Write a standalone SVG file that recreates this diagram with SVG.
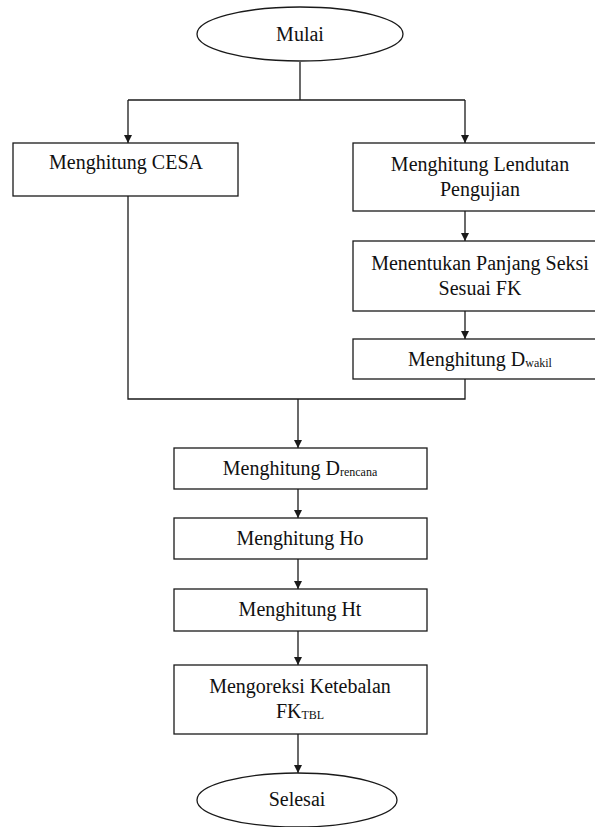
<svg xmlns="http://www.w3.org/2000/svg" width="595" height="827" viewBox="0 0 595 827">
<style>
.n{fill:#fff;stroke:#1a1a1a;stroke-width:1.3}
.c{fill:none;stroke:#1a1a1a;stroke-width:1.3}
text{font-family:"Liberation Serif","Times New Roman",serif;font-size:20px;fill:#111;text-anchor:middle}
.s{font-size:12px}
</style>
<defs>
<marker id="a" viewBox="0 0 10 10" refX="10" refY="5" markerWidth="8" markerHeight="8" markerUnits="userSpaceOnUse" orient="auto">
<path d="M0,0L10,5L0,10z" fill="#1a1a1a"/>
</marker>
</defs>
<g id="connectors">
<path class="c" d="M300,62V100"/>
<path class="c" d="M128,100H465"/>
<path class="c" d="M128,100V143" marker-end="url(#a)"/>
<path class="c" d="M465,100V143" marker-end="url(#a)"/>
<path class="c" d="M465,211V241" marker-end="url(#a)"/>
<path class="c" d="M465,311V339" marker-end="url(#a)"/>
<path class="c" d="M128,196V399H465V379"/>
<path class="c" d="M298,399V448" marker-end="url(#a)"/>
<path class="c" d="M298,489V518" marker-end="url(#a)"/>
<path class="c" d="M298,559V589" marker-end="url(#a)"/>
<path class="c" d="M298,631V665" marker-end="url(#a)"/>
<path class="c" d="M298,734V773" marker-end="url(#a)"/>
</g>
<g id="mulai"><ellipse class="n" cx="300" cy="34" rx="103" ry="27"/><text x="300" y="41">Mulai</text></g>
<g id="cesa"><rect class="n" x="13" y="143" width="225" height="53"/><text x="126" y="169">Menghitung CESA</text></g>
<g id="lendutan"><rect class="n" x="353" y="143" width="254" height="68"/><text x="480" y="171">Menghitung Lendutan</text><text x="480" y="196">Pengujian</text></g>
<g id="panjang"><rect class="n" x="353" y="241" width="254" height="70"/><text x="480" y="270">Menentukan Panjang Seksi</text><text x="480" y="295">Sesuai FK</text></g>
<g id="dwakil"><rect class="n" x="353" y="339" width="254" height="40"/><text x="480" y="366">Menghitung D<tspan class="s" dy="1">wakil</tspan></text></g>
<g id="drencana"><rect class="n" x="174" y="448" width="253" height="41"/><text x="300" y="475">Menghitung D<tspan class="s" dy="1">rencana</tspan></text></g>
<g id="ho"><rect class="n" x="174" y="518" width="253" height="41"/><text x="300" y="545">Menghitung Ho</text></g>
<g id="ht"><rect class="n" x="174" y="589" width="253" height="42"/><text x="300" y="616">Menghitung Ht</text></g>
<g id="koreksi"><rect class="n" x="174" y="665" width="253" height="69"/><text x="300" y="693">Mengoreksi Ketebalan</text><text x="300" y="718">FK<tspan class="s" dy="1">TBL</tspan></text></g>
<g id="selesai"><ellipse class="n" cx="297" cy="800" rx="100" ry="27"/><text x="297" y="806">Selesai</text></g>
</svg>
